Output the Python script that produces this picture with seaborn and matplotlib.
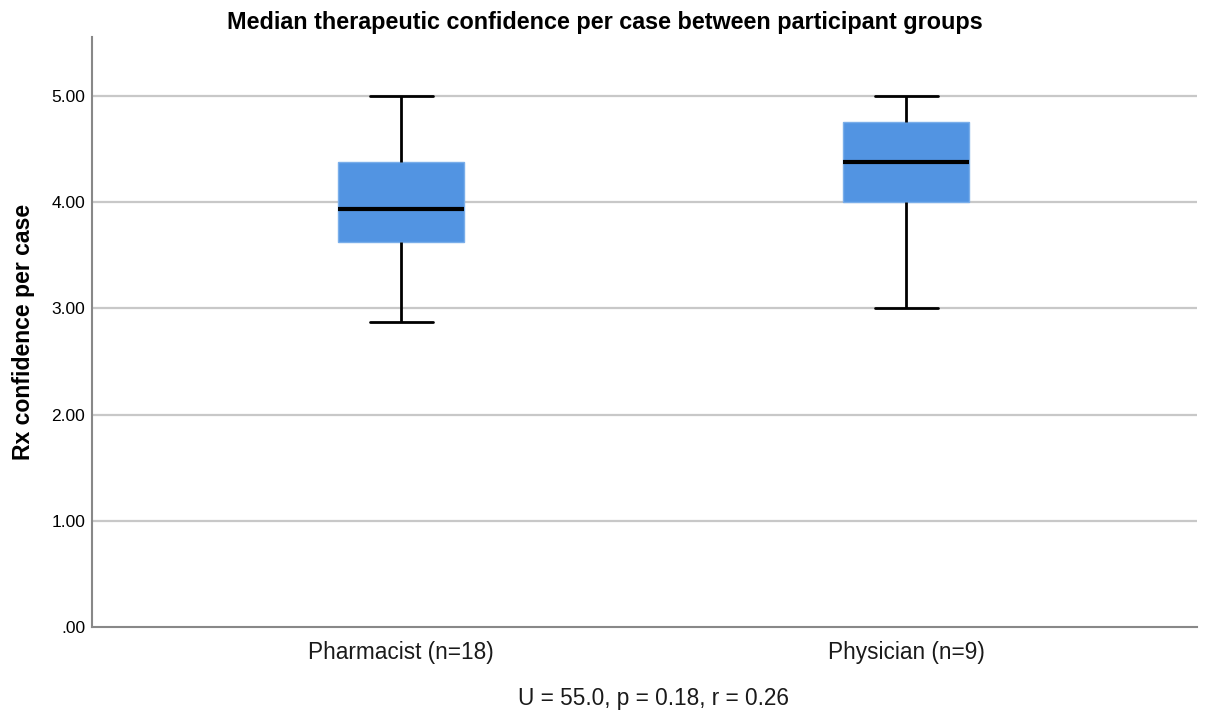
import numpy as np
import pandas as pd
import matplotlib
matplotlib.use("Agg")
import matplotlib.pyplot as plt
import seaborn as sns

# Estimated per-participant values (median confidence per case), read from the box summary
pharmacist = [2.875, 3.125, 3.375, 3.5, 3.625, 3.625, 3.75, 3.875, 3.875,
              4.0, 4.125, 4.25, 4.375, 4.375, 4.5, 4.625, 4.875, 5.0]
physician = [3.0, 3.75, 4.0, 4.25, 4.375, 4.5, 4.75, 4.875, 5.0]
groups = ["Pharmacist (n=18)", "Physician (n=9)"]
yticks = [0, 1, 2, 3, 4, 5]
ytick_labels = [".00", "1.00", "2.00", "3.00", "4.00", "5.00"]

df = pd.DataFrame({
    "group": [groups[0]] * len(pharmacist) + [groups[1]] * len(physician),
    "value": pharmacist + physician,
})

sns.set_theme(style="white")
plt.rcParams["font.family"] = ["Liberation Sans", "DejaVu Sans"]
plt.rcParams["text.color"] = "black"

fig = plt.figure(figsize=(12.09, 7.13), dpi=100)
ax = fig.add_axes([92 / 1209, 1 - 627 / 713, (1197 - 92) / 1209, (627 - 37) / 713])

for y in yticks[1:]:
    ax.axhline(y, color="#c8c8c8", lw=1.6, zorder=0)

sns.boxplot(data=df, x="group", y="value", order=groups, ax=ax,
            color="#5294E2", saturation=1, width=0.25,
            boxprops=dict(edgecolor="#7aaeea", linewidth=1),
            whiskerprops=dict(color="black", linewidth=2),
            capprops=dict(color="black", linewidth=2),
            medianprops=dict(color="black", linewidth=3),
            showfliers=False, zorder=2)

# cap widths half of box width
for line in ax.lines:
    xd = np.asarray(line.get_xdata(), dtype=float)
    yd = np.asarray(line.get_ydata(), dtype=float)
    if len(xd) == 2 and yd[0] == yd[1] and line.get_linewidth() == 2:
        c = xd.mean()
        line.set_xdata([c - 0.0625, c + 0.0625])

ax.set_xlim(-0.612, 1.576)
ax.set_ylim(0, 5.555)
ax.set_yticks(yticks)
ax.set_yticklabels(ytick_labels)
ax.tick_params(axis="y", labelsize=12.5, length=0, pad=5, colors="black")
ax.tick_params(axis="x", labelsize=16.3, length=0, pad=10, colors="#1a1a1a")

fig.text(0.5, 1 - 23 / 713, "Median therapeutic confidence per case between participant groups",
         fontsize=16.8, fontweight="bold", ha="center", va="center", color="black")
ax.set_ylabel("Rx confidence per case", fontsize=16.6, fontweight="bold", labelpad=12, color="black")
ax.set_xlabel("U = 55.0, p = 0.18, r = 0.26", fontsize=16.3, labelpad=16.5, color="#1a1a1a")
ax.xaxis.label.set_x(0.508)

for side in ["top", "right"]:
    ax.spines[side].set_visible(False)
for side in ["left", "bottom"]:
    ax.spines[side].set_color("#888888")
    ax.spines[side].set_linewidth(1.5)

fig.savefig("out.png", dpi=100)
